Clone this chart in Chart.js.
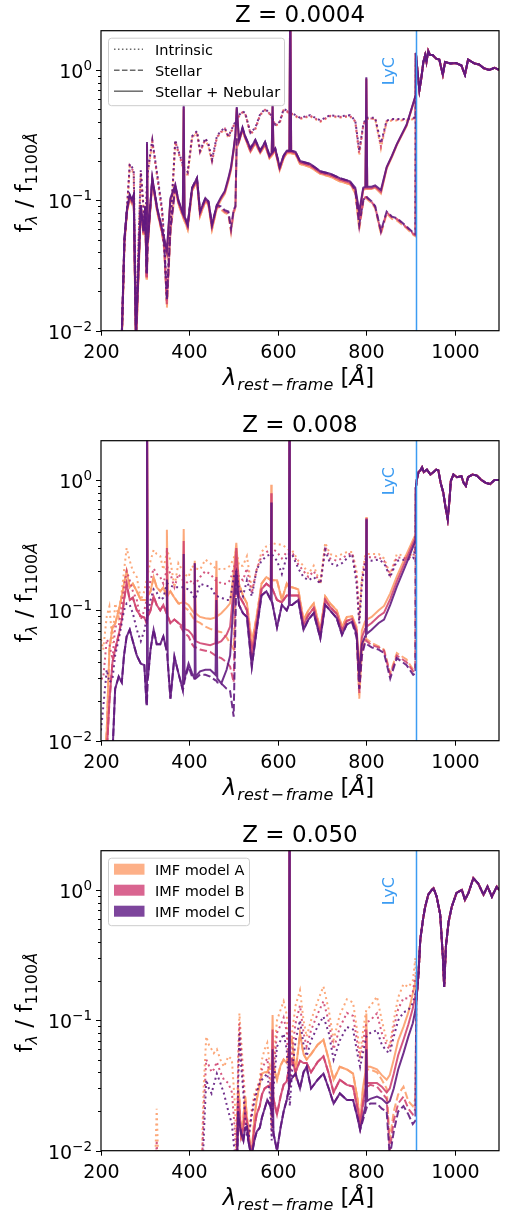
<!DOCTYPE html>
<html>
<head>
<meta charset="utf-8">
<title>LyC spectra</title>
<script src="https://cdn.jsdelivr.net/npm/chart.js@4.4.1/dist/chart.umd.min.js"></script>
<style>
  html, body { margin: 0; padding: 0; background: #fff; }
  body { width: 507px; height: 1213px; position: relative; overflow: hidden; }
  canvas { position: absolute; left: 0; }
</style>
</head>
<body>
<canvas id="p1" width="507" height="410" style="top:0;width:507px;height:410px"></canvas>
<canvas id="p2" width="507" height="410" style="top:410px;width:507px;height:410px"></canvas>
<canvas id="p3" width="507" height="393" style="top:820px;width:507px;height:393px"></canvas>
<script>
const modelNames = ['IMF model A', 'IMF model B', 'IMF model C'];
const modelColors = ['#fc9e6b', '#d04672', '#621a7f'];
const patchColors = ['#fdb088', '#d96590', '#7d459c'];
const componentNames = ['Intrinsic', 'Stellar', 'Stellar + Nebular'];
const componentDash = [[2, 3.3], [7.4, 3.2], []];
const lycWave = 912;
const lycColor = '#3c9cf2';
const xTicks = [200, 400, 600, 800, 1000];
const yMajor = [0.01, 0.1, 1];
const FONT = '"DejaVu Sans", sans-serif';

// ---- Z = 0.0004 ----
const lam1 = [200,246,253,259,265,270,274,279,290,296,
  300,303,304,306,316,327,338,343,349,357,
  368,375,385,387,389,396,406,417,424,436,
  443,451,462,471,480,488,494,500,504,507,
  512,520,526,538,549,560,571,581,586,588,
  590,594,604,613,620,626,628,630,640,650,
  673,696,718,740,763,775,784,793,798,800,
  802,812,820,833,846,858,869,891,907,911];
const intrA1 = [0.004,0.006,0.045,0.085,0.18,0.17,0.16,0.009,0.16,0.085,
  0.052,0.1,0.13,0.16,0.28,0.15,0.08,0.046,0.016,0.06,
  0.28,0.23,0.18,0.17,0.165,0.155,0.3,0.33,0.23,0.29,
  0.26,0.195,0.3,0.33,0.35,0.3,0.33,0.37,0.39,0.41,
  0.44,0.47,0.46,0.32,0.35,0.45,0.49,0.46,0.43,0.41,
  0.4,0.37,0.39,0.49,0.48,0.46,0.46,0.46,0.44,0.42,
  0.44,0.4,0.44,0.43,0.44,0.4,0.22,0.37,0.41,0.42,
  0.42,0.42,0.42,0.25,0.4,0.41,0.41,0.41,0.42,0.42];
const intrB1 = [0.004,0.0065,0.047,0.088,0.185,0.175,0.165,0.01,0.165,0.088,
  0.055,0.105,0.135,0.165,0.285,0.155,0.083,0.048,0.017,0.062,
  0.285,0.235,0.185,0.175,0.17,0.16,0.305,0.335,0.235,0.295,
  0.265,0.2,0.305,0.335,0.355,0.305,0.335,0.375,0.395,0.415,
  0.445,0.475,0.465,0.325,0.355,0.455,0.495,0.465,0.435,0.415,
  0.405,0.375,0.395,0.495,0.485,0.465,0.465,0.465,0.445,0.425,
  0.445,0.405,0.445,0.435,0.445,0.405,0.23,0.375,0.415,0.425,
  0.425,0.425,0.425,0.26,0.405,0.415,0.415,0.415,0.425,0.425];
const intrC1 = [0.004,0.007,0.048,0.09,0.19,0.18,0.17,0.011,0.17,0.09,
  0.058,0.11,0.14,0.17,0.29,0.16,0.087,0.05,0.018,0.065,
  0.29,0.24,0.19,0.18,0.175,0.165,0.31,0.34,0.24,0.3,
  0.27,0.205,0.31,0.34,0.36,0.31,0.34,0.38,0.4,0.42,
  0.45,0.48,0.47,0.33,0.36,0.46,0.5,0.47,0.44,0.42,
  0.41,0.38,0.4,0.5,0.49,0.47,0.47,0.47,0.45,0.43,
  0.45,0.41,0.45,0.44,0.45,0.41,0.24,0.38,0.42,0.43,
  0.43,0.43,0.43,0.275,0.41,0.42,0.42,0.42,0.43,0.43];
const stelA1 = [0.004,0.006,0.047,0.082,0.104,0.094,0.104,0.007,0.087,0.054,
  0.085,0.025,0.027,0.046,0.14,0.082,0.056,0.042,0.015,0.056,
  0.123,0.094,0.075,0.073,0.07,0.06,0.118,0.14,0.076,0.098,
  0.092,0.06,0.088,0.085,0.08,0.078,0.057,0.08,0.086,0.29,
  0.28,0.345,0.3,0.235,0.275,0.23,0.265,0.21,0.22,0.225,
  0.23,0.24,0.17,0.21,0.23,0.23,0.23,0.23,0.225,0.19,
  0.18,0.16,0.152,0.14,0.133,0.113,0.06,0.097,0.104,0.104,
  0.102,0.095,0.087,0.055,0.079,0.072,0.07,0.061,0.054,0.053];
const stelB1 = [0.004,0.0065,0.049,0.085,0.107,0.097,0.107,0.008,0.09,0.056,
  0.088,0.026,0.028,0.048,0.144,0.085,0.058,0.043,0.016,0.058,
  0.126,0.097,0.078,0.076,0.073,0.063,0.122,0.144,0.079,0.101,
  0.095,0.063,0.09,0.088,0.082,0.08,0.059,0.083,0.088,0.295,
  0.285,0.35,0.305,0.24,0.28,0.235,0.27,0.215,0.225,0.23,
  0.235,0.245,0.175,0.215,0.235,0.235,0.235,0.235,0.23,0.195,
  0.185,0.163,0.156,0.144,0.136,0.117,0.063,0.099,0.106,0.106,
  0.104,0.097,0.089,0.057,0.081,0.074,0.072,0.062,0.055,0.054];
const stelC1 = [0.004,0.007,0.051,0.087,0.11,0.1,0.11,0.009,0.092,0.058,
  0.09,0.028,0.03,0.05,0.148,0.087,0.06,0.045,0.017,0.06,
  0.13,0.1,0.08,0.078,0.075,0.065,0.125,0.148,0.082,0.104,
  0.098,0.065,0.092,0.09,0.084,0.082,0.061,0.085,0.09,0.3,
  0.29,0.36,0.31,0.25,0.29,0.24,0.28,0.22,0.23,0.235,
  0.24,0.25,0.18,0.22,0.24,0.24,0.24,0.24,0.235,0.2,
  0.19,0.167,0.16,0.148,0.14,0.12,0.065,0.1,0.107,0.107,
  0.105,0.098,0.09,0.058,0.082,0.075,0.073,0.063,0.056,0.055];
const nebA1 = [0.004,0.006,0.047,0.082,0.104,0.094,0.104,0.007,0.087,0.054,
  0.085,0.025,0.26,0.046,0.14,0.082,0.056,0.047,0.038,0.098,
  0.125,0.094,0.075,0.5,0.07,0.06,0.118,0.14,0.076,0.098,
  0.092,0.06,0.087,0.1,0.112,0.14,0.17,0.24,0.31,0.5,
  0.28,0.345,0.3,0.235,0.275,0.23,0.265,0.21,0.22,0.52,
  0.23,0.24,0.17,0.21,0.23,0.23,5,0.23,0.225,0.19,
  0.18,0.16,0.152,0.14,0.133,0.118,0.075,0.12,0.122,0.85,
  0.122,0.122,0.125,0.113,0.175,0.215,0.265,0.37,0.56,0.62];
const nebB1 = [0.004,0.0065,0.049,0.085,0.107,0.097,0.107,0.008,0.09,0.056,
  0.088,0.026,0.27,0.048,0.144,0.085,0.058,0.049,0.04,0.101,
  0.128,0.097,0.078,0.52,0.073,0.063,0.122,0.144,0.079,0.101,
  0.095,0.063,0.09,0.103,0.115,0.144,0.175,0.245,0.315,0.51,
  0.285,0.35,0.305,0.24,0.28,0.235,0.27,0.215,0.225,0.53,
  0.235,0.245,0.175,0.215,0.235,0.235,5,0.235,0.23,0.195,
  0.185,0.163,0.156,0.144,0.136,0.121,0.078,0.122,0.124,0.86,
  0.124,0.124,0.127,0.116,0.178,0.218,0.268,0.375,0.565,0.625];
const nebC1 = [0.004,0.007,0.051,0.087,0.11,0.1,0.11,0.009,0.092,0.058,
  0.09,0.028,0.28,0.05,0.148,0.087,0.06,0.051,0.041,0.104,
  0.132,0.1,0.08,0.54,0.075,0.065,0.125,0.148,0.082,0.104,
  0.098,0.065,0.092,0.105,0.118,0.148,0.18,0.25,0.32,0.52,
  0.29,0.36,0.31,0.25,0.29,0.24,0.28,0.22,0.23,0.54,
  0.24,0.25,0.18,0.22,0.24,0.24,5,0.24,0.235,0.2,
  0.19,0.167,0.16,0.148,0.14,0.125,0.082,0.125,0.127,0.88,
  0.127,0.127,0.13,0.12,0.18,0.22,0.27,0.38,0.57,0.63];
const tailLam1 = [912,916,920,924,929,933,936,940,944,950,958,965,973,978,990,1003,1015,1023,1030,1045,1055,1066,1078,1090,1100];
const tail1 = [1.35,0.95,0.7,0.85,1.15,1.3,1.15,1.4,1.3,1.3,1.22,1.2,0.92,1.15,1.12,1.13,1.08,0.92,1.2,1.12,1.1,1.03,1.0,1.04,1.0];

// ---- Z = 0.008 ----
const lam2 = [200,205,213,219,226,232,240,247,252,258,
  265,272,281,290,298,303,304,306,312,319,
  326,334,341,348,349,351,357,366,375,385,
  387,389,398,406,411,412,414,424,436,447,
  459,461,463,472,484,492,500,506,512,521,
  530,541,552,563,574,584,585,586,598,609,
  620,625,626,627,632,646,658,669,681,696,
  707,718,733,745,756,768,778,784,790,797,
  799,800,801,812,828,840,854,869,891,906,
  911];
const intrA2 = [0.06,0.05,0.09,0.107,0.056,0.113,0.089,0.14,0.2,0.3,
  0.24,0.2,0.18,0.12,0.14,0.17,0.18,0.19,0.24,0.29,
  0.27,0.26,0.205,0.27,0.29,0.28,0.24,0.15,0.23,0.2,
  0.19,0.19,0.18,0.22,0.21,0.21,0.21,0.205,0.245,0.23,
  0.21,0.21,0.21,0.205,0.21,0.22,0.25,0.29,0.22,0.22,
  0.26,0.145,0.205,0.28,0.31,0.32,0.33,0.33,0.32,0.32,
  0.3,0.29,0.29,0.29,0.29,0.24,0.22,0.19,0.22,0.16,
  0.33,0.27,0.26,0.27,0.28,0.28,0.2,0.089,0.18,0.26,
  0.265,0.27,0.27,0.27,0.27,0.25,0.19,0.27,0.26,0.27,
  0.3];
const intrB2 = [0.03,0.03,0.06,0.055,0.042,0.075,0.075,0.11,0.15,0.2,
  0.17,0.14,0.12,0.085,0.1,0.12,0.13,0.14,0.17,0.21,
  0.19,0.18,0.16,0.2,0.22,0.21,0.19,0.15,0.19,0.17,
  0.17,0.17,0.16,0.17,0.16,0.16,0.16,0.18,0.2,0.19,
  0.17,0.17,0.17,0.16,0.16,0.17,0.21,0.24,0.18,0.17,
  0.21,0.135,0.205,0.26,0.28,0.29,0.3,0.3,0.28,0.25,
  0.28,0.28,0.28,0.28,0.28,0.225,0.2,0.18,0.2,0.16,
  0.31,0.25,0.24,0.25,0.265,0.275,0.18,0.084,0.17,0.245,
  0.25,0.255,0.255,0.255,0.255,0.24,0.185,0.255,0.25,0.26,
  0.3];
const intrC2 = [0.012,0.018,0.035,0.028,0.03,0.045,0.06,0.08,0.1,0.113,
  0.11,0.095,0.071,0.058,0.07,0.086,0.089,0.095,0.12,0.145,
  0.137,0.12,0.125,0.155,0.16,0.16,0.155,0.15,0.15,0.15,
  0.148,0.148,0.145,0.135,0.125,0.122,0.125,0.16,0.155,0.152,
  0.13,0.128,0.128,0.125,0.12,0.12,0.18,0.2,0.15,0.128,
  0.17,0.128,0.205,0.24,0.26,0.27,0.27,0.27,0.24,0.19,
  0.26,0.27,0.27,0.27,0.27,0.21,0.18,0.17,0.18,0.16,
  0.29,0.23,0.22,0.23,0.25,0.27,0.16,0.079,0.16,0.23,
  0.24,0.245,0.245,0.24,0.245,0.23,0.18,0.24,0.245,0.25,
  0.3];
const stelA2 = [0.004,0.005,0.012,0.05,0.075,0.079,0.1,0.128,0.16,0.2,
  0.15,0.16,0.14,0.12,0.12,0.12,0.12,0.13,0.14,0.18,
  0.15,0.14,0.15,0.13,0.13,0.13,0.14,0.125,0.113,0.11,
  0.108,0.105,0.1,0.09,0.085,0.084,0.083,0.08,0.075,0.072,
  0.07,0.07,0.069,0.068,0.062,0.056,0.05,0.3,0.16,0.13,
  0.113,0.056,0.09,0.16,0.18,0.17,0.17,0.17,0.17,0.12,
  0.16,0.15,0.15,0.15,0.15,0.145,0.084,0.1,0.113,0.071,
  0.128,0.113,0.1,0.075,0.089,0.09,0.07,0.021,0.05,0.063,
  0.062,0.06,0.06,0.056,0.053,0.05,0.033,0.047,0.042,0.035,
  0.036];
const stelB2 = [0.003,0.004,0.008,0.02,0.04,0.05,0.065,0.085,0.12,0.16,
  0.12,0.125,0.1,0.09,0.088,0.08,0.082,0.09,0.1,0.128,
  0.11,0.1,0.11,0.095,0.092,0.09,0.08,0.085,0.08,0.07,
  0.068,0.067,0.063,0.055,0.052,0.052,0.052,0.05,0.049,0.048,
  0.045,0.045,0.044,0.043,0.04,0.037,0.028,0.24,0.13,0.115,
  0.1,0.046,0.08,0.145,0.16,0.15,0.15,0.15,0.12,0.115,
  0.13,0.13,0.13,0.13,0.13,0.13,0.078,0.092,0.104,0.066,
  0.12,0.106,0.094,0.07,0.083,0.085,0.066,0.023,0.047,0.059,
  0.059,0.058,0.058,0.054,0.052,0.049,0.032,0.045,0.04,0.034,
  0.035];
const stelC2 = [0.003,0.004,0.005,0.006,0.008,0.025,0.031,0.028,0.045,0.063,
  0.071,0.058,0.045,0.039,0.038,0.019,0.02,0.03,0.05,0.071,
  0.055,0.055,0.063,0.05,0.048,0.04,0.021,0.044,0.033,0.0245,
  0.026,0.029,0.037,0.031,0.03,0.03,0.03,0.032,0.032,0.031,
  0.029,0.029,0.028,0.0275,0.025,0.024,0.0153,0.18,0.11,0.095,
  0.089,0.037,0.071,0.13,0.14,0.12,0.12,0.12,0.074,0.11,
  0.1,0.11,0.11,0.11,0.11,0.12,0.071,0.085,0.095,0.061,
  0.11,0.1,0.087,0.065,0.078,0.08,0.062,0.025,0.045,0.056,
  0.056,0.055,0.055,0.052,0.05,0.047,0.03,0.043,0.038,0.032,
  0.033];
const nebA2 = [0.004,0.005,0.012,0.05,0.075,0.079,0.1,0.128,0.16,0.2,
  0.15,0.16,0.14,0.12,0.12,0.12,5,0.13,0.14,0.18,
  0.15,0.14,0.15,0.13,0.415,0.13,0.14,0.125,0.113,0.115,
  0.42,0.115,0.11,0.1,0.095,0.24,0.095,0.089,0.087,0.086,
  0.088,0.24,0.09,0.095,0.105,0.113,0.2,0.33,0.16,0.13,
  0.113,0.056,0.09,0.16,0.18,0.17,0.92,0.17,0.17,0.12,
  0.16,0.15,5,0.15,0.15,0.145,0.084,0.1,0.113,0.071,
  0.128,0.113,0.1,0.075,0.089,0.09,0.075,0.035,0.07,0.082,
  0.084,0.52,0.085,0.089,0.1,0.108,0.135,0.182,0.27,0.35,
  0.38];
const nebB2 = [0.003,0.004,0.008,0.02,0.04,0.05,0.065,0.085,0.12,0.16,
  0.12,0.125,0.1,0.09,0.088,0.08,5,0.09,0.1,0.128,
  0.11,0.1,0.11,0.095,0.3,0.09,0.08,0.085,0.08,0.075,
  0.34,0.072,0.07,0.065,0.06,0.23,0.058,0.056,0.055,0.054,
  0.056,0.18,0.056,0.058,0.065,0.075,0.15,0.3,0.13,0.115,
  0.1,0.046,0.08,0.145,0.16,0.15,0.79,0.15,0.12,0.115,
  0.13,0.13,5,0.13,0.13,0.13,0.078,0.092,0.104,0.066,
  0.12,0.106,0.094,0.07,0.083,0.086,0.07,0.033,0.062,0.072,
  0.074,0.51,0.075,0.08,0.09,0.096,0.122,0.167,0.25,0.33,
  0.36];
const nebC2 = [0.003,0.004,0.005,0.006,0.008,0.025,0.031,0.028,0.045,0.063,
  0.071,0.058,0.045,0.039,0.038,0.019,5,0.03,0.05,0.071,
  0.055,0.055,0.063,0.05,0.172,0.04,0.021,0.044,0.033,0.0245,
  0.27,0.03,0.039,0.033,0.03,0.23,0.031,0.034,0.035,0.035,
  0.032,0.12,0.03,0.0275,0.035,0.045,0.12,0.2,0.11,0.095,
  0.089,0.037,0.071,0.13,0.14,0.12,0.67,0.12,0.074,0.11,
  0.1,0.11,5,0.11,0.11,0.12,0.071,0.085,0.095,0.061,
  0.11,0.1,0.087,0.065,0.078,0.082,0.066,0.031,0.055,0.063,
  0.065,0.5,0.066,0.071,0.08,0.085,0.11,0.152,0.23,0.31,
  0.34];
const tailLam2 = [912,914,918,922,926,930,937,945,952,958,963,968,974,979,984,988,991,997,1005,1015,1020,1025,1030,1040,1050,1060,1070,1080,1090,1100];
const tail2 = [0.87,1.0,1.15,1.18,1.25,1.15,1.2,1.1,1.15,1.2,1.18,0.95,0.8,0.62,0.5,0.7,0.98,1.1,1.05,1.07,0.95,0.9,1.05,1.1,1.08,1.0,0.95,0.93,1.0,1.0];

// ---- Z = 0.050 ----
const lam3 = [200,320,324,326,328,332,420,428,432,438,
  444,450,455,462,470,478,488,496,503,507,
  510,513,517,522,526,530,533,540,547,552,
  559,564,570,576,583,586,588,590,598,606,
  613,620,625,626,627,632,640,650,658,665,
  675,690,703,715,726,740,756,770,780,786,
  792,798,800,802,809,824,835,846,853,862,
  872,884,895,905,911];
const intrA3 = [0.003,0.004,0.012,0.021,0.012,0.004,0.004,0.009,0.03,0.075,
  0.065,0.06,0.056,0.06,0.05,0.044,0.053,0.05,0.022,0.007,
  0.05,0.113,0.07,0.039,0.025,0.015,0.012,0.02,0.0275,0.03,
  0.035,0.05,0.06,0.067,0.04,0.016,0.03,0.05,0.1,0.12,
  0.14,0.11,0.05,0.045,0.04,0.08,0.13,0.17,0.1,0.075,
  0.1,0.14,0.182,0.12,0.071,0.11,0.145,0.137,0.08,0.056,
  0.08,0.11,0.12,0.122,0.128,0.152,0.1,0.07,0.063,0.1,
  0.15,0.19,0.18,0.2,0.3];
const intrB3 = [0.002,0.003,0.007,0.012,0.007,0.003,0.003,0.007,0.02,0.05,
  0.045,0.04,0.042,0.048,0.04,0.035,0.033,0.028,0.014,0.006,
  0.04,0.095,0.056,0.033,0.021,0.014,0.012,0.019,0.026,0.029,
  0.034,0.042,0.047,0.051,0.032,0.014,0.025,0.04,0.08,0.092,
  0.105,0.082,0.04,0.034,0.03,0.057,0.095,0.13,0.08,0.063,
  0.084,0.112,0.14,0.098,0.06,0.088,0.114,0.108,0.066,0.05,
  0.066,0.088,0.095,0.097,0.1,0.113,0.08,0.064,0.06,0.087,
  0.122,0.148,0.147,0.165,0.22];
const intrC3 = [0.002,0.003,0.004,0.008,0.004,0.003,0.003,0.005,0.012,0.035,
  0.03,0.0275,0.032,0.039,0.033,0.0275,0.02,0.016,0.009,0.005,
  0.03,0.079,0.045,0.0275,0.018,0.013,0.012,0.018,0.024,0.028,
  0.033,0.035,0.037,0.039,0.025,0.012,0.02,0.03,0.063,0.07,
  0.079,0.06,0.03,0.025,0.022,0.04,0.07,0.1,0.065,0.053,
  0.07,0.09,0.107,0.08,0.05,0.07,0.089,0.085,0.055,0.044,
  0.055,0.07,0.075,0.077,0.08,0.084,0.065,0.058,0.056,0.075,
  0.1,0.115,0.12,0.135,0.16];
const stelA3 = [0.002,0.002,0.002,0.002,0.002,0.002,0.002,0.003,0.004,0.005,
  0.006,0.006,0.006,0.006,0.006,0.006,0.006,0.006,0.007,0.009,
  0.03,0.025,0.012,0.018,0.026,0.018,0.015,0.009,0.018,0.0245,
  0.032,0.039,0.04,0.04,0.045,0.045,0.045,0.045,0.035,0.045,
  0.05,0.047,0.06,0.062,0.065,0.071,0.04,0.079,0.055,0.05,
  0.055,0.065,0.071,0.05,0.035,0.044,0.042,0.039,0.025,0.0163,
  0.028,0.038,0.04,0.042,0.042,0.04,0.035,0.03,0.012,0.02,
  0.027,0.031,0.024,0.022,0.025];
const stelB3 = [0.002,0.002,0.002,0.002,0.002,0.002,0.002,0.002,0.003,0.004,
  0.005,0.005,0.005,0.005,0.005,0.005,0.005,0.005,0.006,0.007,
  0.025,0.02,0.0128,0.015,0.02,0.0166,0.0134,0.009,0.015,0.019,
  0.022,0.027,0.03,0.031,0.032,0.03,0.029,0.025,0.019,0.026,
  0.032,0.034,0.043,0.044,0.046,0.05,0.04,0.049,0.047,0.047,
  0.04,0.048,0.053,0.039,0.028,0.035,0.032,0.031,0.021,0.0154,
  0.022,0.028,0.029,0.031,0.032,0.031,0.028,0.025,0.01,0.017,
  0.023,0.026,0.021,0.019,0.021];
const stelC3 = [0.002,0.002,0.002,0.002,0.002,0.002,0.002,0.002,0.003,0.003,
  0.004,0.004,0.004,0.004,0.004,0.004,0.004,0.004,0.005,0.006,
  0.02,0.016,0.0136,0.012,0.015,0.0153,0.012,0.009,0.012,0.014,
  0.015,0.018,0.021,0.0245,0.022,0.02,0.018,0.0136,0.01,0.015,
  0.02,0.0245,0.03,0.031,0.033,0.036,0.039,0.03,0.04,0.044,
  0.03,0.035,0.039,0.03,0.023,0.0275,0.0245,0.0245,0.018,0.0145,
  0.017,0.02,0.021,0.022,0.023,0.023,0.021,0.02,0.009,0.014,
  0.02,0.022,0.019,0.016,0.017];
const nebA3 = [0.002,0.002,0.002,0.002,0.002,0.002,0.002,0.003,0.004,0.005,
  0.006,0.006,0.006,0.006,0.006,0.006,0.006,0.006,0.007,0.009,
  0.03,0.025,0.012,0.018,0.026,0.018,0.015,0.009,0.018,0.0245,
  0.032,0.039,0.04,0.04,0.045,0.045,0.11,0.045,0.035,0.045,
  0.05,0.047,0.06,5,0.065,0.071,0.04,0.079,0.055,0.05,
  0.055,0.065,0.071,0.05,0.035,0.044,0.042,0.039,0.025,0.0163,
  0.03,0.04,0.113,0.044,0.044,0.042,0.038,0.035,0.038,0.05,
  0.07,0.089,0.115,0.16,0.2];
const nebB3 = [0.002,0.002,0.002,0.002,0.002,0.002,0.002,0.002,0.003,0.004,
  0.005,0.005,0.005,0.005,0.005,0.005,0.005,0.005,0.006,0.007,
  0.025,0.02,0.0128,0.015,0.02,0.0166,0.0134,0.009,0.015,0.019,
  0.022,0.027,0.03,0.031,0.032,0.03,0.085,0.025,0.019,0.026,
  0.032,0.034,0.043,5,0.046,0.05,0.04,0.049,0.047,0.047,
  0.04,0.048,0.053,0.039,0.028,0.035,0.032,0.031,0.021,0.0154,
  0.023,0.03,0.085,0.033,0.033,0.033,0.031,0.028,0.03,0.039,
  0.054,0.071,0.093,0.123,0.155];
const nebC3 = [0.002,0.002,0.002,0.002,0.002,0.002,0.002,0.002,0.003,0.003,
  0.004,0.004,0.004,0.004,0.004,0.004,0.004,0.004,0.005,0.006,
  0.02,0.016,0.0136,0.012,0.015,0.0153,0.012,0.009,0.012,0.014,
  0.015,0.018,0.021,0.0245,0.022,0.02,0.06,0.0136,0.01,0.015,
  0.02,0.0245,0.03,5,0.033,0.036,0.039,0.03,0.04,0.044,
  0.03,0.035,0.039,0.03,0.023,0.0275,0.0245,0.0245,0.018,0.0145,
  0.018,0.022,0.06,0.024,0.025,0.026,0.025,0.023,0.024,0.03,
  0.042,0.056,0.075,0.095,0.12];
const tailLam3 = [913,918,922,928,933,940,948,952,959,967,973,976,980,986,993,1004,1016,1023,1031,1042,1053,1065,1074,1084,1095,1100];
const tail3 = [0.14,0.23,0.415,0.59,0.74,0.92,1.0,1.03,0.89,0.65,0.31,0.18,0.37,0.57,0.74,0.95,1.0,0.84,0.95,1.23,1.12,0.92,1.06,0.89,1.06,1.0];

function withAlpha(hex, a) {
  const n = parseInt(hex.slice(1), 16);
  return 'rgba(' + (n >> 16) + ',' + ((n >> 8) & 255) + ',' + (n & 255) + ',' + a + ')';
}

// one dataset per model x component, red side of the edge shared
function buildDatasets(lam, tailLam, tail, sets) {
  const xs = lam.concat(tailLam);
  const out = [];
  sets.forEach((comps, m) => {
    comps.forEach((vals, k) => {
      const ys = vals.concat(tail);
      out.push({
        label: modelNames[m] + ' ' + componentNames[k],
        data: xs.map((x, i) => ({ x: x, y: ys[i] })),
        borderColor: withAlpha(modelColors[m], 0.9),
        borderWidth: 2,
        borderDash: componentDash[k],
        pointRadius: 0,
        tension: 0,
        order: 3 - m
      });
    });
  });
  return out;
}

// text made of runs: [text, font, dy]
function drawRuns(ctx, runs, x, y, align) {
  let w = 0;
  runs.forEach(r => { ctx.font = r[1]; w += ctx.measureText(r[0]).width + (r[3] || 0); });
  let cx = align === 'center' ? x - w / 2 : (align === 'right' ? x - w : x);
  ctx.textAlign = 'left';
  ctx.textBaseline = 'alphabetic';
  runs.forEach(r => {
    ctx.font = r[1];
    ctx.fillText(r[0], cx, y + (r[2] || 0));
    cx += ctx.measureText(r[0]).width + (r[3] || 0);
  });
}

const decor = {
  id: 'decor',
  afterDatasetsDraw(chart, args, opts) {
    const ctx = chart.ctx, a = chart.chartArea;
    const xs = chart.scales.x, ys = chart.scales.y;
    ctx.save();

    // Lyman edge
    const lx = Math.round(xs.getPixelForValue(lycWave)) + 0.5;
    ctx.strokeStyle = lycColor;
    ctx.lineWidth = 1.5;
    ctx.beginPath(); ctx.moveTo(lx, a.top); ctx.lineTo(lx, a.bottom); ctx.stroke();
    ctx.save();
    ctx.translate(xs.getPixelForValue(853), ys.getPixelForValue(0.98));
    ctx.rotate(-Math.PI / 2);
    ctx.fillStyle = lycColor;
    ctx.font = '16px ' + FONT;
    ctx.textAlign = 'center';
    ctx.textBaseline = 'middle';
    ctx.fillText('LyC', 0, 0);
    ctx.restore();

    // frame
    ctx.strokeStyle = '#000';
    ctx.lineWidth = 1.2;
    ctx.strokeRect(a.left, a.top, a.right - a.left, a.bottom - a.top);

    // x ticks
    ctx.fillStyle = '#000';
    ctx.lineWidth = 1;
    xTicks.forEach(v => {
      const px = Math.round(xs.getPixelForValue(v)) + 0.5;
      ctx.beginPath(); ctx.moveTo(px, a.bottom); ctx.lineTo(px, a.bottom + 5); ctx.stroke();
      ctx.font = '19px ' + FONT;
      ctx.textAlign = 'center';
      ctx.textBaseline = 'alphabetic';
      ctx.fillText(String(v), px, a.bottom + 27);
    });

    // y ticks, decades and minor
    yMajor.forEach(v => {
      const py = Math.round(ys.getPixelForValue(v)) + 0.5;
      ctx.beginPath(); ctx.moveTo(a.left - 5, py); ctx.lineTo(a.left, py); ctx.stroke();
      const e = Math.round(Math.log10(v));
      drawRuns(ctx, [['10', '19px ' + FONT, 0], [e < 0 ? '\u2212' + (-e) : String(e), '13.5px ' + FONT, -8]], a.left - 9, py + 7, 'right');
      for (let k = 2; k <= 9; k++) {
        const mv = v * k;
        if (mv > ys.max * 0.999) break;
        const my = Math.round(ys.getPixelForValue(mv)) + 0.5;
        ctx.beginPath(); ctx.moveTo(a.left - 3, my); ctx.lineTo(a.left, my); ctx.stroke();
      }
    });

    // axis labels
    const midX = (a.left + a.right) / 2 - 1.5;
    drawRuns(ctx, [
      ['\u03bb', 'italic 23px ' + FONT, 0, 1],
      ['rest', 'italic 16px ' + FONT, 5, 2],
      ['\u2212', '16px ' + FONT, 5, 2],
      ['frame', 'italic 16px ' + FONT, 5],
      [' [', '23px ' + FONT, 0],
      ['\u00c5', 'italic 23px ' + FONT, 0],
      [']', '23px ' + FONT, 0]
    ], midX, a.bottom + 54.5, 'center');

    ctx.save();
    ctx.translate(32, (a.top + a.bottom) / 2 + 2);
    ctx.rotate(-Math.PI / 2);
    drawRuns(ctx, [
      ['f', '23px ' + FONT, 0],
      ['\u03bb', 'italic 16px ' + FONT, 5],
      [' / f', '23px ' + FONT, 0],
      ['1100', '16px ' + FONT, 5],
      ['\u00c5', 'italic 16px ' + FONT, 5]
    ], 0, 0, 'center');
    ctx.restore();

    // title
    ctx.font = '23px ' + FONT;
    ctx.textAlign = 'center';
    ctx.textBaseline = 'alphabetic';
    ctx.fillText(opts.title, (a.left + a.right) / 2, a.top - 8.7);

    // legend
    if (opts.legend) {
      const lx0 = a.left + 7, ly0 = a.top + 7;
      const w = opts.legend === 'components' ? 176 : 141;
      ctx.fillStyle = 'rgba(255,255,255,0.8)';
      ctx.strokeStyle = '#cccccc';
      ctx.lineWidth = 1;
      ctx.beginPath();
      ctx.roundRect(lx0 + 0.5, ly0 + 0.5, w, 67.5, 3);
      ctx.fill(); ctx.stroke();
      const names = opts.legend === 'components' ? componentNames : modelNames;
      names.forEach((n, i) => {
        const cy = ly0 + 11.5 + i * 21;
        if (opts.legend === 'components') {
          ctx.strokeStyle = 'rgba(80,80,80,0.85)';
          ctx.lineWidth = 1.5;
          ctx.setLineDash(componentDash[i].map(d => d * 0.75));
          ctx.beginPath(); ctx.moveTo(lx0 + 6, cy); ctx.lineTo(lx0 + 35, cy); ctx.stroke();
          ctx.setLineDash([]);
        } else {
          ctx.fillStyle = patchColors[i];
          ctx.fillRect(lx0 + 6, cy - 5.5, 30.5, 11);
        }
        ctx.fillStyle = '#000';
        ctx.font = '14.5px ' + FONT;
        ctx.textAlign = 'left';
        ctx.textBaseline = 'alphabetic';
        ctx.fillText(n, lx0 + 47, cy + 5.3);
      });
    }
    ctx.restore();
  }
};

function makePanel(id, h, title, legend, datasets) {
  new Chart(document.getElementById(id), {
    type: 'line',
    data: { datasets: datasets },
    options: {
      responsive: false,
      animation: false,
      devicePixelRatio: 1,
      layout: { padding: { left: 101, right: 8, top: 30.7, bottom: h - 330.7 } },
      scales: {
        x: { type: 'linear', min: 200, max: 1100, display: false },
        y: { type: 'logarithmic', min: 0.01, max: 2, display: false }
      },
      plugins: {
        legend: { display: false },
        tooltip: { enabled: false },
        decor: { title: title, legend: legend }
      }
    },
    plugins: [decor]
  });
}

makePanel('p1', 410, 'Z = 0.0004', 'components', buildDatasets(lam1, tailLam1, tail1,
  [[intrA1, stelA1, nebA1], [intrB1, stelB1, nebB1], [intrC1, stelC1, nebC1]]));
makePanel('p2', 410, 'Z = 0.008', null, buildDatasets(lam2, tailLam2, tail2,
  [[intrA2, stelA2, nebA2], [intrB2, stelB2, nebB2], [intrC2, stelC2, nebC2]]));
makePanel('p3', 393, 'Z = 0.050', 'models', buildDatasets(lam3, tailLam3, tail3,
  [[intrA3, stelA3, nebA3], [intrB3, stelB3, nebB3], [intrC3, stelC3, nebC3]]));
</script>
</body>
</html>
